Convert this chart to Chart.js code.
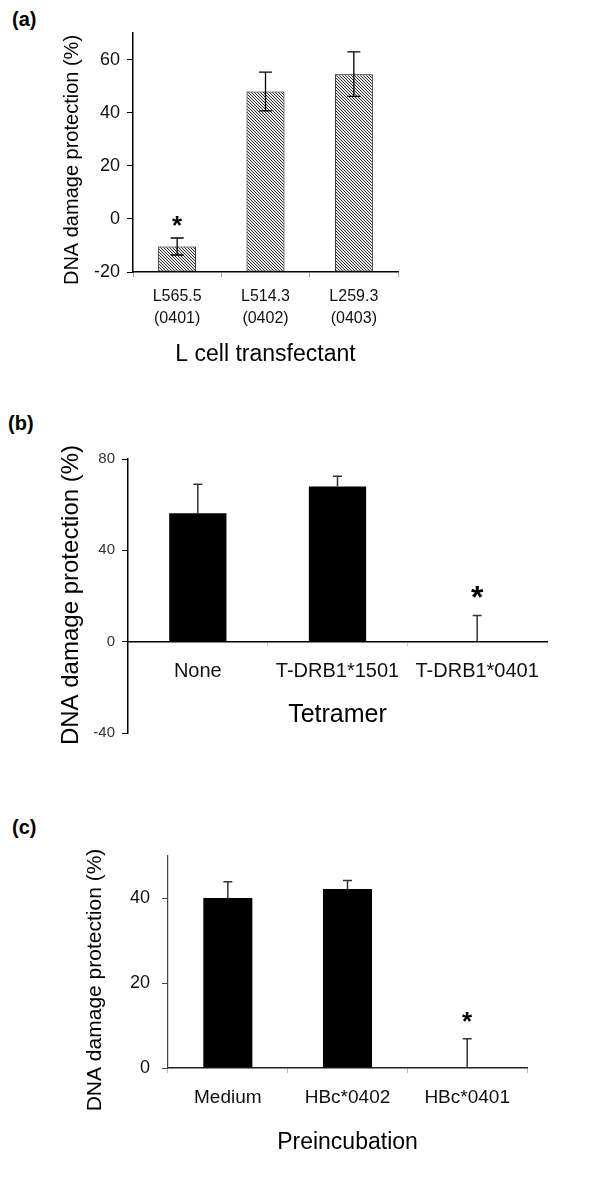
<!DOCTYPE html>
<html>
<head>
<meta charset="utf-8">
<script src="https://cdn.jsdelivr.net/npm/chart.js@4.4.1/dist/chart.umd.min.js"></script>
<style>
  body { margin: 0; background: #fff; font-family: "Liberation Sans", Arial, sans-serif; }
  .panel { position: absolute; left: 0; width: 600px; }
  .tag { position: absolute; font-weight: bold; font-size: 20px; line-height: 20px; }
</style>
</head>
<body>
<div class="tag" style="left:12px;top:9px">(a)</div>
<div class="tag" style="left:8px;top:413px">(b)</div>
<div class="tag" style="left:12px;top:817px">(c)</div>
<div class="panel" style="top:0;height:390px"><canvas id="chartA"></canvas></div>
<div class="panel" style="top:390px;height:400px"><canvas id="chartB"></canvas></div>
<div class="panel" style="top:790px;height:388px"><canvas id="chartC"></canvas></div>
<script>
// (a) L cell transfectants
const catA = [["L565.5", "(0401)"], ["L514.3", "(0402)"], ["L259.3", "(0403)"]];
const valA = [-10.4, 48.0, 54.5];
const errA = [3.2, 7.3, 8.4];
const sigA = ["*", "", ""];
const ticksA = [-20, 0, 20, 40, 60];

// (b) tetramer
const catB = ["None", "T-DRB1*1501", "T-DRB1*0401"];
const valB = [56.2, 68.0, 0];
const errB = [12.7, 4.4, 11.5];
const sigB = ["", "", "*"];
const ticksB = [-40, 0, 40, 80];

// (c) preincubation
const catC = ["Medium", "HBc*0402", "HBc*0401"];
const valC = [40.1, 42.2, 0];
const errC = [3.8, 2.0, 6.9];
const sigC = ["", "", "*"];
const ticksC = [0, 20, 40];

const FONT = "'Liberation Sans', Arial, sans-serif";
const yTitle = "DNA damage protection (%)";

function hatch() {
  const c = document.createElement("canvas");
  c.width = 3;
  c.height = 3;
  const g = c.getContext("2d");
  g.fillStyle = "#e8e8e8";
  g.fillRect(0, 0, 3, 3);
  g.strokeStyle = "#333";
  g.lineWidth = 1;
  g.beginPath();
  g.moveTo(0, 0); g.lineTo(3, 3);
  g.moveTo(-1, 2); g.lineTo(1, 4);
  g.moveTo(2, -1); g.lineTo(4, 1);
  g.stroke();
  return g.createPattern(c, "repeat");
}

// error bars, asterisks and the rotated y title
const extras = {
  id: "extras",
  afterDatasetsDraw(chart, args, o) {
    const ctx = chart.ctx;
    const y = chart.scales.y;
    const bars = chart.getDatasetMeta(0).data;
    ctx.save();
    ctx.strokeStyle = o.color;
    ctx.lineWidth = o.lineWidth;
    bars.forEach((bar, i) => {
      const v = o.values[i];
      const e = o.err[i];
      const top = y.getPixelForValue(v + e);
      const bot = y.getPixelForValue(o.both ? v - e : v);
      ctx.beginPath();
      ctx.moveTo(bar.x, top);
      ctx.lineTo(bar.x, bot);
      ctx.moveTo(bar.x - o.cap / 2, top);
      ctx.lineTo(bar.x + o.cap / 2, top);
      if (o.both) {
        ctx.moveTo(bar.x - o.cap / 2, bot);
        ctx.lineTo(bar.x + o.cap / 2, bot);
      }
      ctx.stroke();
      if (o.sig[i]) {
        ctx.font = "bold " + o.starSize + "px " + FONT;
        ctx.fillStyle = "#000";
        ctx.textAlign = "center";
        ctx.textBaseline = "alphabetic";
        const m = ctx.measureText(o.sig[i]);
        const cy = top - o.starGap;
        ctx.fillText(o.sig[i], bar.x, cy + (m.actualBoundingBoxAscent - m.actualBoundingBoxDescent) / 2);
      }
    });
    ctx.translate(o.titleX, o.titleY);
    ctx.rotate(-Math.PI / 2);
    ctx.font = o.titleSize + "px " + FONT;
    ctx.fillStyle = "#000";
    ctx.textAlign = "center";
    ctx.textBaseline = "middle";
    ctx.fillText(yTitle, 0, 0);
    ctx.restore();
  }
};

const base = {
  animation: false,
  responsive: true,
  maintainAspectRatio: false,
};

// (a) bars rise from the bottom of the axis, as in Excel
new Chart(document.getElementById("chartA"), {
  type: "bar",
  data: {
    labels: catA,
    datasets: [{
      data: valA,
      base: ticksA[0],
      backgroundColor: hatch(),
      borderColor: "#000",
      borderWidth: 1,
      borderSkipped: false,
      barPercentage: 0.43,
      categoryPercentage: 1,
    }],
  },
  options: {
    ...base,
    layout: { padding: { left: 0, right: 202, top: 33, bottom: 18 } },
    plugins: {
      legend: { display: false },
      tooltip: { enabled: false },
      extras: {
        values: valA, err: errA, sig: sigA, both: true,
        color: "#000", lineWidth: 1.3, cap: 13, starSize: 26, starGap: 17,
        titleX: 72, titleY: 160, titleSize: 20,
      },
    },
    scales: {
      x: {
        grid: { offset: true, drawOnChartArea: false, tickLength: 5, color: "#aaa" },
        border: { color: "#000", width: 1.5 },
        ticks: { color: "#111", padding: 8, font: { family: FONT, size: 16, lineHeight: 1.4 } },
        title: {
          display: true, text: "L cell transfectant", color: "#000",
          font: { family: FONT, size: 23 }, padding: { top: 0, bottom: 4 },
        },
        afterFit: (s) => { s.height = 100; },
      },
      y: {
        min: -20,
        max: 70,
        afterBuildTicks: (s) => { s.ticks = ticksA.map((v) => ({ value: v })); },
        grid: { drawOnChartArea: false, tickLength: 6, color: "#000" },
        border: { color: "#000", width: 1.5 },
        ticks: { color: "#111", padding: 7, font: { family: FONT, size: 18 } },
        afterFit: (s) => { s.width = 133; },
      },
    },
  },
  plugins: [extras],
});

// (b)
new Chart(document.getElementById("chartB"), {
  type: "bar",
  data: {
    labels: catB,
    datasets: [{
      data: valB,
      backgroundColor: "#000",
      borderWidth: 0,
      barPercentage: 0.41,
      categoryPercentage: 1,
    }],
  },
  options: {
    ...base,
    layout: { padding: { left: 0, right: 53, top: 69, bottom: 57 } },
    plugins: {
      legend: { display: false },
      tooltip: { enabled: false },
      extras: {
        values: valB, err: errB, sig: sigB, both: false,
        color: "#333", lineWidth: 1.5, cap: 9, starSize: 32, starGap: 23,
        titleX: 71, titleY: 205, titleSize: 24,
      },
    },
    scales: {
      x: {
        position: { y: 0 },
        grid: { offset: true, drawOnChartArea: false, tickLength: 4, color: "#ccc" },
        border: { color: "#000", width: 1.5 },
        ticks: { color: "#111", padding: 14, font: { family: FONT, size: 20 } },
        title: {
          display: true, text: "Tetramer", color: "#000",
          font: { family: FONT, size: 25 }, padding: { top: 0, bottom: 2 },
        },
        afterFit: (s) => { s.height = 90; },
      },
      y: {
        min: -40,
        max: 80,
        afterBuildTicks: (s) => { s.ticks = ticksB.map((v) => ({ value: v })); },
        grid: { drawOnChartArea: false, tickLength: 6, color: "#000" },
        border: { color: "#000", width: 1.5 },
        ticks: { color: "#333", padding: 7, font: { family: FONT, size: 15 } },
        afterFit: (s) => { s.width = 128; },
      },
    },
  },
  plugins: [extras],
});

// (c)
new Chart(document.getElementById("chartC"), {
  type: "bar",
  data: {
    labels: catC,
    datasets: [{
      data: valC,
      backgroundColor: "#000",
      borderWidth: 0,
      barPercentage: 0.41,
      categoryPercentage: 1,
    }],
  },
  options: {
    ...base,
    layout: { padding: { left: 0, right: 73, top: 66, bottom: 10 } },
    plugins: {
      legend: { display: false },
      tooltip: { enabled: false },
      extras: {
        values: valC, err: errC, sig: sigC, both: false,
        color: "#333", lineWidth: 1.5, cap: 9, starSize: 26, starGap: 22,
        titleX: 95, titleY: 190, titleSize: 21,
      },
    },
    scales: {
      x: {
        grid: { offset: true, drawOnChartArea: false, tickLength: 5, color: "#bbb" },
        border: { color: "#222", width: 1.5 },
        ticks: { color: "#111", padding: 13, font: { family: FONT, size: 19 } },
        title: {
          display: true, text: "Preincubation", color: "#000",
          font: { family: FONT, size: 23 }, padding: { top: 0, bottom: 12 },
        },
        afterFit: (s) => { s.height = 100; },
      },
      y: {
        min: 0,
        max: 50,
        afterBuildTicks: (s) => { s.ticks = ticksC.map((v) => ({ value: v })); },
        grid: { drawOnChartArea: false, tickLength: 6, color: "#444" },
        border: { color: "#444", width: 1.2 },
        ticks: { color: "#111", padding: 12, font: { family: FONT, size: 18 } },
        afterFit: (s) => { s.width = 168; },
      },
    },
  },
  plugins: [extras],
});
</script>
</body>
</html>
